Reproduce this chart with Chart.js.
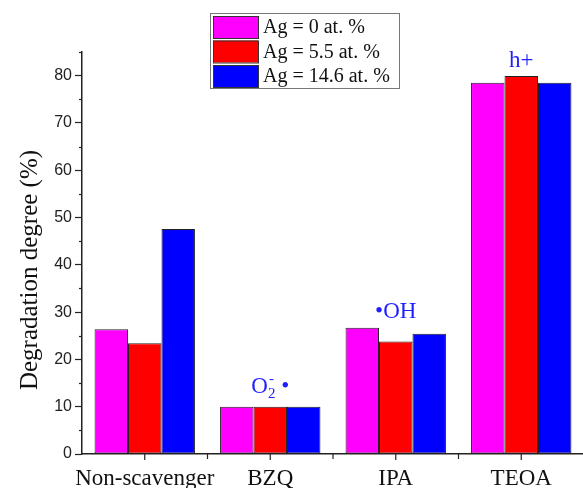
<!DOCTYPE html>
<html>
<head>
    <meta charset="utf-8">
    <title>degradation</title>
    <script src="https://cdn.jsdelivr.net/npm/chart.js@4.4.0/dist/chart.umd.min.js"></script>
    <style>
        html, body { margin: 0; padding: 0; background: #fff; overflow: hidden; }
        #wrap { width: 600px; height: 488px; }
    </style>
</head>
<body>
<div id="wrap"><canvas id="myChart" width="600" height="488"></canvas></div>

<script>
    // data
    let categories = ['Non-scavenger', 'BZQ', 'IPA', 'TEOA'];
    let seriesNames = ['Ag = 0 at. %', 'Ag = 5.5 at. %', 'Ag = 14.6 at. %'];
    let ag0 = [26.4, 10.0, 26.7, 78.5];
    let ag55 = [23.4, 10.0, 23.8, 79.9];
    let ag146 = [47.6, 10.0, 25.4, 78.5];
    let yTicks = [0, 10, 20, 30, 40, 50, 60, 70, 80];
    // species labels above groups: [category index, text, value at baseline]
    let notes = [[1, 'O2-•', 13.0], [2, '•OH', 28.8], [3, 'h+', 81.9]];

    let colors = ['#ff00ff', '#ff0000', '#0000ff'];
    let serif = '"Liberation Serif", "Times New Roman", serif';

    // minor ticks, x ticks, axis title, legend box and species labels
    let extras = {
        id: 'extras',
        afterDraw: function (chart) {
            let ctx = chart.ctx;
            let x = chart.scales.x, y = chart.scales.y;
            let area = chart.chartArea;
            ctx.save();
            ctx.strokeStyle = '#222';
            ctx.lineWidth = 1.2;
            // y minor ticks
            for (let v = 5; v <= 85; v += 10) {
                let py = Math.round(y.getPixelForValue(v)) + 0.5;
                ctx.beginPath();
                ctx.moveTo(area.left - 3, py);
                ctx.lineTo(area.left, py);
                ctx.stroke();
            }
            // x ticks at centres and boundaries
            for (let i = 0; i < categories.length; i++) {
                let px = x.getPixelForValue(i);
                ctx.beginPath();
                ctx.moveTo(px, area.bottom);
                ctx.lineTo(px, area.bottom + 6);
                ctx.stroke();
                if (i > 0) {
                    let bx = (px + x.getPixelForValue(i - 1)) / 2;
                    ctx.beginPath();
                    ctx.moveTo(bx, area.bottom);
                    ctx.lineTo(bx, area.bottom + 5);
                    ctx.stroke();
                }
            }

            // y title
            ctx.save();
            ctx.translate(30, 270);
            ctx.rotate(-Math.PI / 2);
            ctx.font = '25px ' + serif;
            ctx.fillStyle = '#111';
            ctx.textAlign = 'center';
            ctx.textBaseline = 'middle';
            ctx.fillText('Degradation degree (%)', 0, 0);
            ctx.restore();

            // species labels
            ctx.fillStyle = '#1f1fff';
            ctx.textBaseline = 'alphabetic';
            notes.forEach(function (n) {
                let cx = x.getPixelForValue(n[0]);
                let cy = y.getPixelForValue(n[2]);
                if (n[1] === 'O2-•') {
                    ctx.font = '23px ' + serif;
                    let wO = ctx.measureText('O').width;
                    ctx.font = '15px ' + serif;
                    let w2 = ctx.measureText('2').width;
                    ctx.font = '23px ' + serif;
                    let wd = ctx.measureText(' •').width;
                    let sx = cx - (wO + w2 + wd) / 2;
                    ctx.textAlign = 'left';
                    ctx.fillText('O', sx, cy);
                    ctx.font = '15px ' + serif;
                    ctx.fillText('2', sx + wO, cy + 5);
                    ctx.fillText('-', sx + wO + 1, cy - 10);
                    ctx.font = '23px ' + serif;
                    ctx.fillText(' •', sx + wO + w2, cy);
                } else {
                    ctx.font = '23px ' + serif;
                    ctx.textAlign = 'center';
                    ctx.fillText(n[1], cx, cy);
                }
            });

            // legend
            let lx = 210, ly = 13, lw = 189, lh = 75;
            ctx.fillStyle = '#fff';
            ctx.fillRect(lx, ly, lw, lh);
            ctx.strokeStyle = '#777';
            ctx.lineWidth = 1;
            ctx.strokeRect(lx + 0.5, ly + 0.5, lw, lh);
            ctx.font = '20px ' + serif;
            ctx.textAlign = 'left';
            ctx.textBaseline = 'middle';
            chart.data.datasets.forEach(function (ds, i) {
                let ry = ly + 3 + i * 24.5;
                ctx.fillStyle = ds.backgroundColor;
                ctx.fillRect(lx + 3, ry, 45, 22);
                ctx.strokeStyle = '#333';
                ctx.strokeRect(lx + 3.5, ry + 0.5, 45, 22);
                ctx.fillStyle = '#111';
                ctx.fillText(ds.label, lx + 53, ry + 12);
            });
            ctx.restore();
        }
    };

    let ctx = document.getElementById('myChart');
    let myBarChart = new Chart(ctx, {
        type: 'bar',
        data: {
            labels: categories,
            datasets: [
                {label: seriesNames[0], data: ag0, backgroundColor: colors[0]},
                {label: seriesNames[1], data: ag55, backgroundColor: colors[1]},
                {label: seriesNames[2], data: ag146, backgroundColor: colors[2]}
            ]
        },
        options: {
            responsive: false,
            animation: false,
            devicePixelRatio: 1,
            layout: {padding: {top: 52, right: 16, left: 0, bottom: 0}},
            datasets: {
                bar: {
                    borderColor: '#222',
                    borderWidth: 1,
                    borderSkipped: false,
                    categoryPercentage: 0.8,
                    barPercentage: 1.0
                }
            },
            plugins: {
                legend: {display: false},
                tooltip: {enabled: false}
            },
            scales: {
                x: {
                    grid: {display: false, drawTicks: false},
                    border: {color: '#222', width: 1.5},
                    ticks: {
                        color: '#111',
                        padding: 11,
                        autoSkip: false,
                        minRotation: 0,
                        maxRotation: 0,
                        font: {family: serif, size: 23}
                    },
                    afterFit: function (s) { s.height = 34; }
                },
                y: {
                    min: 0,
                    max: 85,
                    afterBuildTicks: function (s) {
                        s.ticks = yTicks.map(function (v) { return {value: v}; });
                    },
                    grid: {display: true, drawOnChartArea: false, tickLength: 7, color: '#222', tickWidth: 1.2},
                    border: {color: '#222', width: 1.5},
                    ticks: {
                        color: '#222',
                        padding: 3,
                        font: {family: 'Arial, "Liberation Sans", sans-serif', size: 16}
                    },
                    afterFit: function (s) { s.width = 82; }
                }
            }
        },
        plugins: [extras]
    });
</script>
</body>
</html>
